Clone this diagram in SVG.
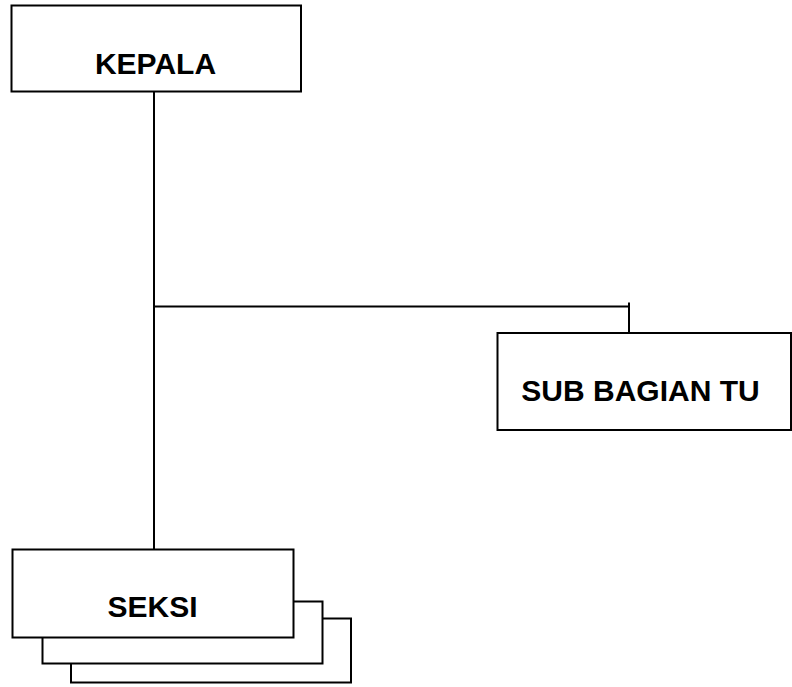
<svg xmlns="http://www.w3.org/2000/svg" width="792" height="687" viewBox="0 0 792 687">
  <style>
    .box { fill: #ffffff; stroke: #000000; stroke-width: 2; }
    .label { font-family: "Liberation Sans", Arial, sans-serif; font-weight: bold; font-size: 30px; fill: #000000; text-anchor: middle; }
    .conn { fill: none; stroke: #000000; stroke-width: 2; }
  </style>
  <rect width="792" height="687" fill="#ffffff"/>

  <g id="connectors">
    <line class="conn" x1="154" y1="92" x2="154" y2="549"/>
    <line class="conn" x1="154" y1="306.5" x2="630" y2="306.5"/>
    <line class="conn" x1="629" y1="302.5" x2="629" y2="333"/>
  </g>

  <g id="kepala">
    <rect class="box" x="11.5" y="5.5" width="289.5" height="86"/>
    <text class="label" x="155.5" y="74">KEPALA</text>
  </g>

  <g id="sub-bagian-tu">
    <rect class="box" x="497.5" y="333" width="293.5" height="97"/>
    <text class="label" x="640.5" y="401">SUB BAGIAN TU</text>
  </g>

  <g id="seksi">
    <rect class="box" x="71" y="618.5" width="280" height="64"/>
    <rect class="box" x="42.5" y="601.5" width="280" height="62"/>
    <rect class="box" x="12.5" y="549.5" width="281" height="88"/>
    <text class="label" x="152.5" y="617">SEKSI</text>
  </g>
</svg>
